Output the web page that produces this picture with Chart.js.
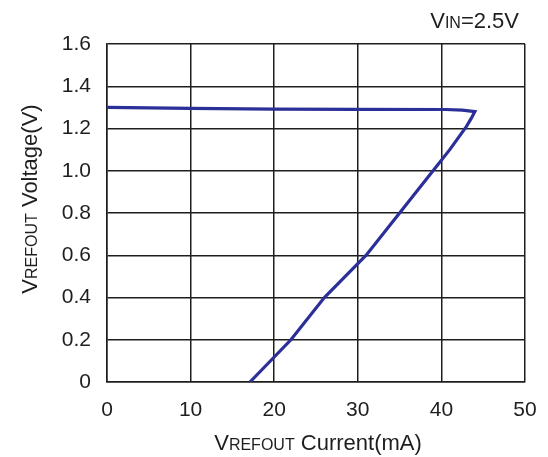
<!DOCTYPE html>
<html>
<head>
<meta charset="utf-8">
<script src="https://cdn.jsdelivr.net/npm/chart.js@4"></script>
<style>
  html, body { margin: 0; padding: 0; background: #fff; }
  #wrap { width: 548px; height: 457px; }
</style>
</head>
<body>
<div id="wrap"><canvas id="myChart"></canvas></div>
<script>
// load curve
const currentMA = [0, 10, 20, 30, 40.5, 42.5, 44, 43.6, 43, 41, 39, 35, 31, 26, 22, 17.1];
const voltageV = [1.30, 1.295, 1.292, 1.291, 1.29, 1.287, 1.28, 1.25, 1.21, 1.10, 1.0, 0.80, 0.60, 0.40, 0.20, 0];
const xTicks = [0, 10, 20, 30, 40, 50];
const yTicks = [0, 0.2, 0.4, 0.6, 0.8, 1.0, 1.2, 1.4, 1.6];

const FONT = 'Liberation Sans, Arial, sans-serif';

// draws "V" + small caps subscript + rest, like the datasheet labels
function mixedText(ctx, parts, x, y, align) {
  let total = 0;
  parts.forEach(p => { ctx.font = p[1] + 'px ' + FONT; total += ctx.measureText(p[0]).width; });
  let cx = align === 'right' ? x - total : (align === 'center' ? x - total / 2 : x);
  ctx.textAlign = 'left';
  ctx.textBaseline = 'alphabetic';
  parts.forEach(p => {
    ctx.font = p[1] + 'px ' + FONT;
    ctx.fillText(p[0], cx, y);
    cx += ctx.measureText(p[0]).width;
  });
}

const labelsPlugin = {
  id: 'labels',
  afterDraw(chart) {
    const ctx = chart.ctx;
    ctx.save();
    ctx.fillStyle = '#1e1e1e';
    mixedText(ctx, [['V', 22], ['IN', 16], ['=2.5V', 22]], 519, 28, 'right');
    mixedText(ctx, [['V', 22], ['REFOUT', 16], [' Current(mA)', 22]], 318, 450, 'center');
    ctx.translate(37, 199);
    ctx.rotate(-Math.PI / 2);
    mixedText(ctx, [['V', 22], ['REFOUT', 16], [' Voltage(V)', 22]], 0, 0, 'center');
    ctx.restore();
  }
};

const ctx = document.getElementById('myChart');

new Chart(ctx, {
  type: 'scatter',
  data: {
    datasets: [{
      data: currentMA.map((x, i) => ({ x: x, y: voltageV[i] })),
      showLine: true,
      borderColor: '#2b2f98',
      borderWidth: 3.2,
      pointRadius: 0,
      tension: 0,
      fill: false
    }]
  },
  options: {
    responsive: true,
    maintainAspectRatio: false,
    animation: false,
    layout: { padding: { top: 44, right: 23, left: 0, bottom: 0 } },
    plugins: {
      legend: { display: false },
      tooltip: { enabled: false }
    },
    scales: {
      x: {
        type: 'linear',
        min: 0,
        max: 50,
        afterBuildTicks: axis => { axis.ticks = xTicks.map(v => ({ value: v })); },
        afterFit: axis => { axis.height = 75; axis.paddingLeft = 0; axis.paddingRight = 0; },
        grid: { color: '#1e1e1e', lineWidth: 1.5, drawTicks: false },
        border: { color: '#1e1e1e', width: 1.5 },
        ticks: { color: '#1e1e1e', font: { family: FONT, size: 21 }, padding: 16, maxRotation: 0 }
      },
      y: {
        type: 'linear',
        min: 0,
        max: 1.6,
        afterBuildTicks: axis => { axis.ticks = yTicks.map(v => ({ value: v })); },
        afterFit: axis => { axis.width = 107; axis.paddingTop = 0; axis.paddingBottom = 0; },
        grid: { color: '#1e1e1e', lineWidth: 1.5, drawTicks: false },
        border: { color: '#1e1e1e', width: 1.5 },
        ticks: {
          color: '#1e1e1e',
          font: { family: FONT, size: 21 },
          padding: 16,
          callback: v => v === 0 ? '0' : v.toFixed(1)
        }
      }
    }
  },
  plugins: [labelsPlugin]
});
</script>
</body>
</html>
